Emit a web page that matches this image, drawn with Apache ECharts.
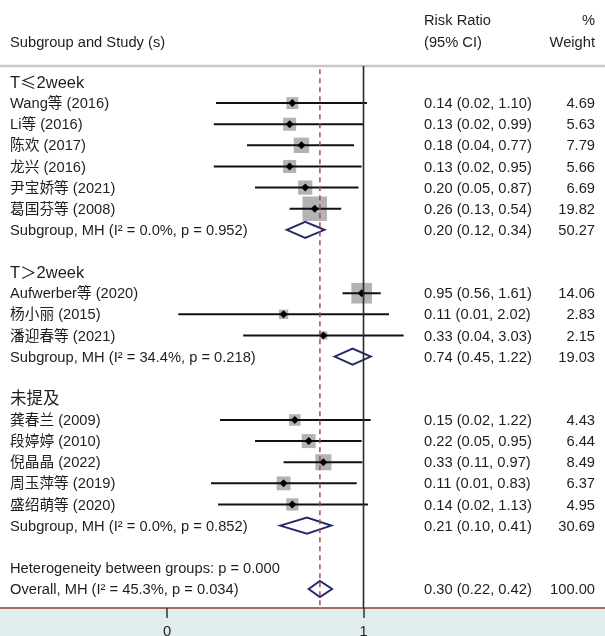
<!DOCTYPE html>
<html>
<head>
<meta charset="utf-8">
<script src="https://cdn.jsdelivr.net/npm/echarts@6/dist/echarts.min.js"></script>
<style>
  html, body { margin: 0; padding: 0; background: #fff; }
  #forest { width: 605px; height: 636px; }
</style>
</head>
<body>
<div id="forest"></div>
<script>
// subgroups
const groupNames = ['T≤2week', 'T＞2week', '未提及'];
const subLabels = [
  'Subgroup, MH (I² = 0.0%, p = 0.952)',
  'Subgroup, MH (I² = 34.4%, p = 0.218)',
  'Subgroup, MH (I² = 0.0%, p = 0.852)'
];
const subRR = [0.20, 0.74, 0.21];
const subLo = [0.12, 0.45, 0.10];
const subHi = [0.34, 1.22, 0.41];
const subWeight = [50.27, 19.03, 30.69];

// studies
const studyNames = [
  'Wang等 (2016)', 'Li等 (2016)', '陈欢 (2017)', '龙兴 (2016)', '尹宝娇等 (2021)', '葛国芬等 (2008)',
  'Aufwerber等 (2020)', '杨小丽 (2015)', '潘迎春等 (2021)',
  '龚春兰 (2009)', '段婷婷 (2010)', '倪晶晶 (2022)', '周玉萍等 (2019)', '盛绍萌等 (2020)'
];
const studyGroup = [0, 0, 0, 0, 0, 0, 1, 1, 1, 2, 2, 2, 2, 2];
const studyRR = [0.14, 0.13, 0.18, 0.13, 0.20, 0.26, 0.95, 0.11, 0.33, 0.15, 0.22, 0.33, 0.11, 0.14];
const studyLo = [0.017, 0.016, 0.04, 0.016, 0.05, 0.13, 0.56, 0.006, 0.036, 0.019, 0.05, 0.11, 0.0148, 0.018];
const studyHi = [1.10, 0.99, 0.77, 0.95, 0.87, 0.54, 1.61, 2.02, 3.03, 1.22, 0.95, 0.97, 0.83, 1.13];
const studyWeight = [4.69, 5.63, 7.79, 5.66, 6.69, 19.82, 14.06, 2.83, 2.15, 4.43, 6.44, 8.49, 6.37, 4.95];

// overall
const heteroText = 'Heterogeneity between groups: p = 0.000';
const overallLabel = 'Overall, MH (I² = 45.3%, p = 0.034)';
const overallRR = 0.30, overallLo = 0.22, overallHi = 0.42, overallWeight = 100.00;

// x axis ticks (risk ratio scale)
const tickValues = [0.0044, 1];

const FONT = '"Liberation Sans", Arial, "Noto Sans CJK SC", sans-serif';
const TXT = '#1e1e1e';
const fmtCI = (r, l, h) => r.toFixed(2) + ' (' + l.toFixed(2) + ', ' + h.toFixed(2) + ')';

// build the row layout
const rows = [
  { row: -2.95, label: '', ci: 'Risk Ratio', w: '%' },
  { row: -1.9, label: 'Subgroup and Study (s)', ci: '(95% CI)', w: 'Weight' }
];
const studyRows = [], subRows = [];
let r = 0;
groupNames.forEach((g, gi) => {
  rows.push({ row: r++, label: g, group: true });
  studyNames.forEach((n, si) => {
    if (studyGroup[si] !== gi) return;
    studyRows[si] = r;
    rows.push({ row: r++, label: n, ci: fmtCI(studyRR[si], studyLo[si], studyHi[si]), w: studyWeight[si].toFixed(2) });
  });
  subRows[gi] = r;
  rows.push({ row: r++, label: subLabels[gi], ci: fmtCI(subRR[gi], subLo[gi], subHi[gi]), w: subWeight[gi].toFixed(2) });
  r++;
});
rows.push({ row: r++, label: heteroText });
const overallRow = r;
rows.push({ row: r++, label: overallLabel, ci: fmtCI(overallRR, overallLo, overallHi), w: overallWeight.toFixed(2) });

const xMin = -10.04, xMax = 6.67;
const yMin = -3.88, yMax = 24.9;
const ruleRow = -0.757;

const chart = echarts.init(document.getElementById('forest'));

function renderStudy(params, api) {
  const c = api.coord([api.value(0), api.value(1)]);
  const lo = api.coord([api.value(2), api.value(1)]);
  const hi = api.coord([api.value(3), api.value(1)]);
  const s = 5.5 * Math.sqrt(api.value(4));
  const m = 4;
  return {
    type: 'group',
    children: [
      { type: 'rect', shape: { x: c[0] - s / 2, y: c[1] - s / 2, width: s, height: s }, style: { fill: '#b3b3b3' } },
      { type: 'line', shape: { x1: lo[0], y1: c[1], x2: hi[0], y2: c[1] }, style: { stroke: '#111', lineWidth: 2 } },
      { type: 'polygon', shape: { points: [[c[0] - m, c[1]], [c[0], c[1] - m], [c[0] + m, c[1]], [c[0], c[1] + m]] }, style: { fill: '#000' } }
    ]
  };
}

function renderDiamond(params, api) {
  const c = api.coord([api.value(0), api.value(1)]);
  const lo = api.coord([api.value(2), api.value(1)]);
  const hi = api.coord([api.value(3), api.value(1)]);
  const h = 8;
  return {
    type: 'polygon',
    shape: { points: [[lo[0], c[1]], [c[0], c[1] - h], [hi[0], c[1]], [c[0], c[1] + h]] },
    style: { fill: 'none', stroke: '#262b68', lineWidth: 2 }
  };
}

function textEl(text, x, y, align, size, rich) {
  return {
    type: 'text',
    style: {
      text: text, x: x, y: y + 1,
      align: align, verticalAlign: 'middle',
      textAlign: align, textVerticalAlign: 'middle',
      fontFamily: FONT, fontSize: size, fill: TXT,
      rich: rich
    }
  };
}

function renderText(params, api) {
  const row = rows[params.dataIndex];
  const y = api.coord([0, row.row])[1];
  const kids = [];
  if (row.label) {
    if (row.group) {
      const t = row.label.replace(/([≤＞])/, '{s|$1}');
      kids.push(textEl(t, 10, y, 'left', 16.5, {
        s: { fontFamily: '"Noto Sans CJK SC"', fontSize: 16.5, fill: TXT }
      }));
    } else {
      kids.push(textEl(row.label, 10, y, 'left', 14.7));
    }
  }
  if (row.ci) kids.push(textEl(row.ci, 424, y, 'left', 14.7));
  if (row.w) kids.push(textEl(row.w, 595, y, 'right', 14.7));
  return { type: 'group', children: kids };
}

chart.setOption({
  backgroundColor: '#e1ecec',
  animation: false,
  grid: {
    left: 0, right: 0, top: 0, bottom: 28,
    outerBoundsMode: 'none', containLabel: false,
    show: true, backgroundColor: '#fff', borderWidth: 0
  },
  xAxis: {
    type: 'value',
    min: xMin,
    max: xMax,
    axisLine: { onZero: false, lineStyle: { color: '#8c3b3b', width: 1.5 } },
    axisTick: { show: true, customValues: tickValues.map(Math.log), length: 10, lineStyle: { color: '#333', width: 1.5 } },
    axisLabel: {
      customValues: tickValues.map(Math.log),
      formatter: v => String(Math.round(Math.exp(v))),
      margin: 17, color: TXT, fontSize: 14.7, fontFamily: FONT
    },
    splitLine: { show: false }
  },
  yAxis: { type: 'value', inverse: true, min: yMin, max: yMax, show: false },
  series: [
    {
      type: 'line', silent: true, symbol: 'none',
      data: [[xMin, ruleRow], [xMax, ruleRow]],
      lineStyle: { color: '#c8c8c8', width: 2.5 }
    },
    {
      type: 'line', silent: true, symbol: 'none',
      data: [[0, ruleRow], [0, yMax]],
      lineStyle: { color: '#2a2a2a', width: 1.6 }
    },
    {
      type: 'line', silent: true, symbol: 'none',
      data: [[Math.log(overallRR), ruleRow + 0.15], [Math.log(overallRR), yMax]],
      lineStyle: { color: '#a5485a', width: 1.5, type: [5, 4] }
    },
    {
      type: 'custom', silent: true, renderItem: renderStudy,
      data: studyNames.map((n, i) => [Math.log(studyRR[i]), studyRows[i], Math.log(studyLo[i]), Math.log(studyHi[i]), studyWeight[i]])
    },
    {
      type: 'custom', silent: true, renderItem: renderDiamond,
      data: subRR.map((v, i) => [Math.log(v), subRows[i], Math.log(subLo[i]), Math.log(subHi[i])])
        .concat([[Math.log(overallRR), overallRow, Math.log(overallLo), Math.log(overallHi)]])
    },
    {
      type: 'custom', silent: true, renderItem: renderText,
      data: rows.map(d => [0, d.row])
    }
  ]
});
</script>
</body>
</html>
